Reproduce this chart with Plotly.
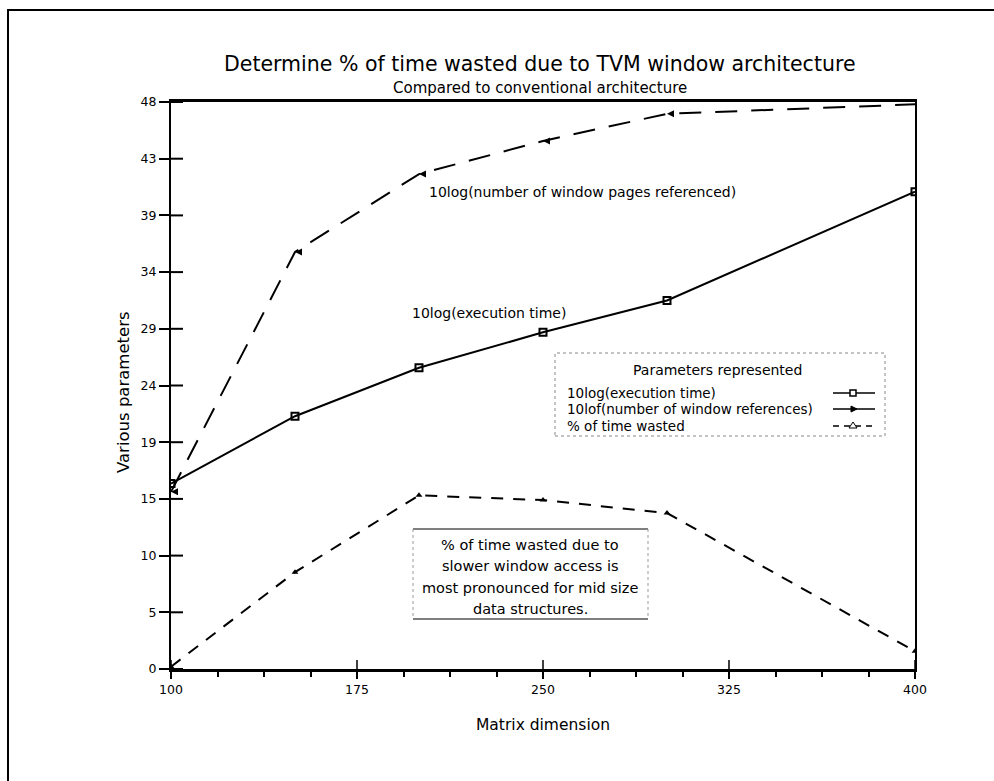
import plotly.graph_objects as go

# Matrix sizes tested
matrix_dim = [100, 150, 200, 250, 300, 400]

# Measured parameters per matrix size
exec_time_db = [15.7, 21.4, 25.5, 28.5, 31.2, 40.4]        # 10log(execution time)
window_pages_db = [15.0, 35.3, 41.9, 44.7, 47.0, 47.8]     # 10log(number of window pages referenced)
pct_time_wasted = [0.2, 8.2, 14.7, 14.3, 13.2, 1.5]        # % of time wasted

# Axis ticks
x_ticks = [100, 175, 250, 325, 400]
y_tick_vals = [0, 4.8, 9.6, 14.4, 19.2, 24.0, 28.8, 33.6, 38.4, 43.2, 48.0]
y_tick_text = ["0", "5", "10", "15", "19", "24", "29", "34", "39", "43", "48"]

W, H = 994, 781
L, R, T, B = 171, 915, 102, 669
FONT = "DejaVu Sans"


def px(x):
    return (x - L) / (R - L)


def py(y):
    return (B - y) / (B - T)


fig = go.Figure()

fig.add_trace(go.Scatter(
    x=matrix_dim, y=exec_time_db, mode="lines+markers",
    line=dict(color="black", width=2),
    marker=dict(symbol="square-open", size=7, color="black", line=dict(width=2)),
    showlegend=False,
))
fig.add_trace(go.Scatter(
    x=matrix_dim, y=window_pages_db, mode="lines+markers",
    line=dict(color="black", width=2, dash="22px,14px"),
    marker=dict(symbol="arrow-left", size=7, color="black"),
    showlegend=False,
))
fig.add_trace(go.Scatter(
    x=matrix_dim, y=pct_time_wasted, mode="lines+markers",
    line=dict(color="black", width=2, dash="12px,10px"),
    marker=dict(symbol="triangle-up", size=6, color="black"),
    showlegend=False,
))

shapes = []
# inner halves of the crossing tick marks
for v in y_tick_vals:
    shapes.append(dict(type="line", xref="paper", yref="y", x0=0, x1=12 / (R - L),
                       y0=v, y1=v, line=dict(color="black", width=2)))
for v in x_ticks:
    shapes.append(dict(type="line", xref="x", yref="paper", x0=v, x1=v,
                       y0=0, y1=9 / (B - T), line=dict(color="black", width=1.5)))

# outer page border
shapes.append(dict(type="path", xref="paper", yref="paper",
                   path=f"M {px(8)} {py(H)} L {px(8)} {py(10)} L {px(W)} {py(10)}",
                   line=dict(color="black", width=2)))

# legend frame
shapes.append(dict(type="rect", xref="paper", yref="paper",
                   x0=px(555), x1=px(885), y0=py(436), y1=py(353),
                   line=dict(color="#888", width=1, dash="dot")))
# note frame: solid top/bottom, dotted sides
for ys in (529, 619):
    shapes.append(dict(type="line", xref="paper", yref="paper",
                       x0=px(413), x1=px(648), y0=py(ys), y1=py(ys),
                       line=dict(color="black", width=1.2)))
for xs in (413, 648):
    shapes.append(dict(type="line", xref="paper", yref="paper",
                       x0=px(xs), x1=px(xs), y0=py(529), y1=py(619),
                       line=dict(color="#999", width=1, dash="dot")))

annotations = []


def text(x, y, s, size, xanchor="center", **kw):
    annotations.append(dict(x=px(x), y=py(y), xref="paper", yref="paper", text=s,
                            showarrow=False, xanchor=xanchor, yanchor="middle",
                            font=dict(family=FONT, size=size, color="black"), **kw))


# legend entries: label on the left, line sample with marker on the right
legend_rows = [
    ("10log(execution time)", 393, "solid"),
    ("10lof(number of window references)", 409, "solid"),
    ("% of time wasted", 426, "6px,5px"),
]
for label, yy, dash in legend_rows:
    shapes.append(dict(type="line", xref="paper", yref="paper",
                       x0=px(833), x1=px(875), y0=py(yy), y1=py(yy),
                       line=dict(color="black", width=1.5, dash=dash)))
    text(565, yy, label, 13.5, xanchor="left")
# sample markers
shapes.append(dict(type="rect", xref="paper", yref="paper",
                   x0=px(850), x1=px(856), y0=py(396), y1=py(390),
                   line=dict(color="black", width=1.5), fillcolor="white"))
shapes.append(dict(type="path", xref="paper", yref="paper",
                   path=f"M {px(857)} {py(409)} L {px(851)} {py(406)} L {px(851)} {py(412)} Z",
                   line=dict(color="black", width=1), fillcolor="black"))
shapes.append(dict(type="path", xref="paper", yref="paper",
                   path=f"M {px(853)} {py(422)} L {px(849)} {py(428)} L {px(857)} {py(428)} Z",
                   line=dict(color="black", width=1), fillcolor="white"))

text(540, 64, "Determine % of time wasted due to TVM window architecture", 20.5)
text(540, 88, "Compared to conventional architecture", 15)
text(717, 370, "Parameters represented", 14)
text(427, 192, "10log(number of window pages referenced)", 14, xanchor="left")
text(410, 313, "10log(execution time)", 14, xanchor="left")
note_lines = ["% of time wasted due to", "slower window access is",
              "most pronounced for mid size", "data structures."]
for i, line in enumerate(note_lines):
    text(530, 545 + i * 21.3, line, 14.5)
text(123, 392, "Various parameters", 16.5, textangle=-90)
text(543, 725, "Matrix dimension", 15.5)

fig.update_layout(
    width=W, height=H,
    margin=dict(l=L, r=W - R, t=T, b=H - B, pad=0),
    paper_bgcolor="white", plot_bgcolor="white",
    font=dict(family=FONT, size=12, color="black"),
    shapes=shapes, annotations=annotations,
    xaxis=dict(
        range=[100, 400], tickvals=x_ticks, ticks="outside", ticklen=7, tickwidth=1.5,
        tickcolor="black", showline=True, linecolor="black", linewidth=2.5, mirror=True,
        showgrid=False, zeroline=False, tickfont=dict(size=12.5),
        minor=dict(tick0=100, dtick=18.75, ticks="outside", ticklen=5, tickcolor="black"),
    ),
    yaxis=dict(
        range=[0, 48], tickvals=y_tick_vals, ticktext=y_tick_text, ticks="outside",
        ticklen=10, tickwidth=2, tickcolor="black", showline=True, linecolor="black",
        linewidth=2, mirror=True, showgrid=False, zeroline=False, tickfont=dict(size=12.5),
    ),
)

fig.write_html("out.html")
